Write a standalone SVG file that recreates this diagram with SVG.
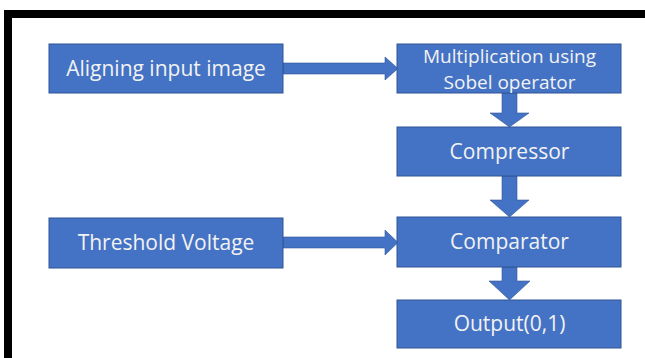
<svg xmlns="http://www.w3.org/2000/svg" width="645" height="358" viewBox="0 0 645 358">
<style>
.box{fill:#4472C4;stroke:#2F5597;stroke-width:1}
.lbl{font-family:"Open Sans","Liberation Sans",sans-serif;font-size:21px;fill:#F2F2F2;text-anchor:middle}
.sm{font-size:19px}
.arr{fill:#4472C4;stroke:#2F5597;stroke-width:0.6}
</style>
<rect x="0" y="0" width="645" height="358" fill="#FFFFFF"/>
<rect x="4" y="10" width="641" height="8" fill="#000000"/>
<rect x="4" y="10" width="8" height="348" fill="#000000"/>
<g id="connectors">
<path class="arr" d="M283,63 H385 V57 L398,68.5 L385,80 V74 H283 Z"/>
<path class="arr" d="M283,237 H385 V230 L398,242.5 L385,255 V248 H283 Z"/>
<path class="arr" d="M502,93 H517 V113 H529 L509.5,127 L490,113 H502 Z"/>
<path class="arr" d="M502,176 H517 V200 H529 L509.5,217 L490,200 H502 Z"/>
<path class="arr" d="M502,267 H517 V281 H530 L509.5,300 L489,281 H502 Z"/>
</g>
<g id="aligning">
<rect class="box" x="49" y="44" width="234" height="49"/>
<text class="lbl" x="166" y="76">Aligning input image</text>
</g>
<g id="multiplication">
<rect class="box" x="397" y="44" width="224" height="49"/>
<text class="lbl sm" x="509.5" y="63">Multiplication using</text>
<text class="lbl sm" x="509.5" y="89">Sobel operator</text>
</g>
<g id="compressor">
<rect class="box" x="397" y="127" width="224" height="49"/>
<text class="lbl" x="509.5" y="159">Compressor</text>
</g>
<g id="threshold">
<rect class="box" x="49" y="218" width="234" height="50"/>
<text class="lbl" x="166" y="250">Threshold Voltage</text>
</g>
<g id="comparator">
<rect class="box" x="397" y="217" width="224" height="50"/>
<text class="lbl" x="509.5" y="249">Comparator</text>
</g>
<g id="output">
<rect class="box" x="397" y="300" width="224" height="48"/>
<text class="lbl" x="509.5" y="331">Output(0,1)</text>
</g>
</svg>
